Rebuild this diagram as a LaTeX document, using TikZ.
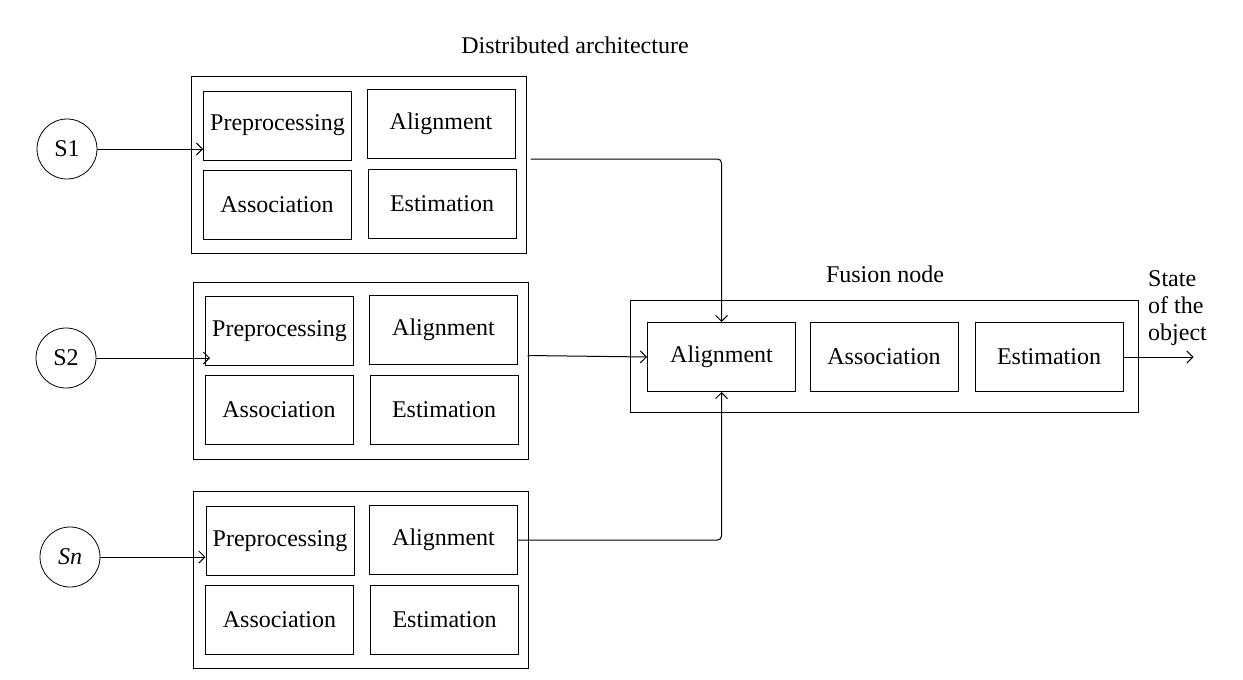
\documentclass[tikz,border=0pt]{standalone}
\usepackage{fontspec}
\setmainfont{Liberation Serif}
\usetikzlibrary{arrows.meta}

\tikzset{
  inbox/.style={draw, line width=1pt, minimum width=148pt, minimum height=69pt, inner sep=0pt},
  outbox/.style={draw, line width=1pt, minimum width=335pt, minimum height=177pt, inner sep=0pt},
  sensor/.style={draw, circle, line width=0.8pt, minimum size=60pt, inner sep=0pt},
  arr/.style={line width=1pt, -{Straight Barb[length=6pt,width=12pt]}},
  lbl/.style={inner sep=0pt}
}

\begin{document}
\begin{tikzpicture}[x=1pt, y=-1pt, font=\fontsize{24}{27}\selectfont]
\useasboundingbox (0,0) rectangle (1243,680);

% distributed blocks
\node[lbl] (title) at (575,45) {Distributed architecture};

\node[outbox] (b1) at (358.5,164.5) {};
\node[inbox] (b1P) at (277.5,125.5) {Preprocessing};
\node[inbox] (b1A) at (441,124) {Alignment};
\node[inbox] (b1S) at (277,204.5) {Association};
\node[inbox] (b1E) at (442,204) {Estimation};

\node[outbox] (b2) at (360.5,370.5) {};
\node[inbox] (b2P) at (279.5,331) {Preprocessing};
\node[inbox] (b2A) at (443.5,330) {Alignment};
\node[inbox] (b2S) at (279,409.5) {Association};
\node[inbox] (b2E) at (444,409.5) {Estimation};

\node[outbox] (b3) at (360.5,580) {};
\node[inbox] (b3P) at (280,541) {Preprocessing};
\node[inbox] (b3A) at (443.5,540) {Alignment};
\node[inbox] (b3S) at (279.5,620) {Association};
\node[inbox] (b3E) at (444.5,620) {Estimation};

% sensors
\node[sensor] (s1) at (67,149) {S1};
\node[sensor] (s2) at (66,358) {S2};
\node[sensor] (sn) at (70,557) {\textit{Sn}};

\draw[arr] (s1.east) -- (s1.east -| b1P.west);
\draw[arr] (s2.east) -- ([xshift=5pt]s2.east -| b2P.west);
\draw[arr] (sn.east) -- (sn.east -| b3P.west);

% fusion node
\node[lbl] (ftitle) at (885,274) {Fusion node};
\node[draw, line width=1pt, minimum width=508pt, minimum height=112pt, inner sep=0pt] (f) at (884,356) {};
\node[inbox] (fA) at (721.5,357) {Alignment};
\node[inbox] (fS) at (884,356.5) {Association};
\node[inbox] (fE) at (1049,357) {Estimation};

\node[lbl, align=left, anchor=north west] (state) at (1148,270) {State\\of the\\object};
\coordinate (out) at ([xshift=70pt]fE.east);

\draw[arr, rounded corners=4pt] ([shift={(4,-5.5)}]b1.east) -| (fA.north);
\draw[arr] ([shift={(-1,-15)}]b2.east) -- (fA.west);
\draw[arr, rounded corners=4pt] (b3A.east) -| (fA.south);
\draw[arr] (fE.east) -- (out);
\end{tikzpicture}
\end{document}
